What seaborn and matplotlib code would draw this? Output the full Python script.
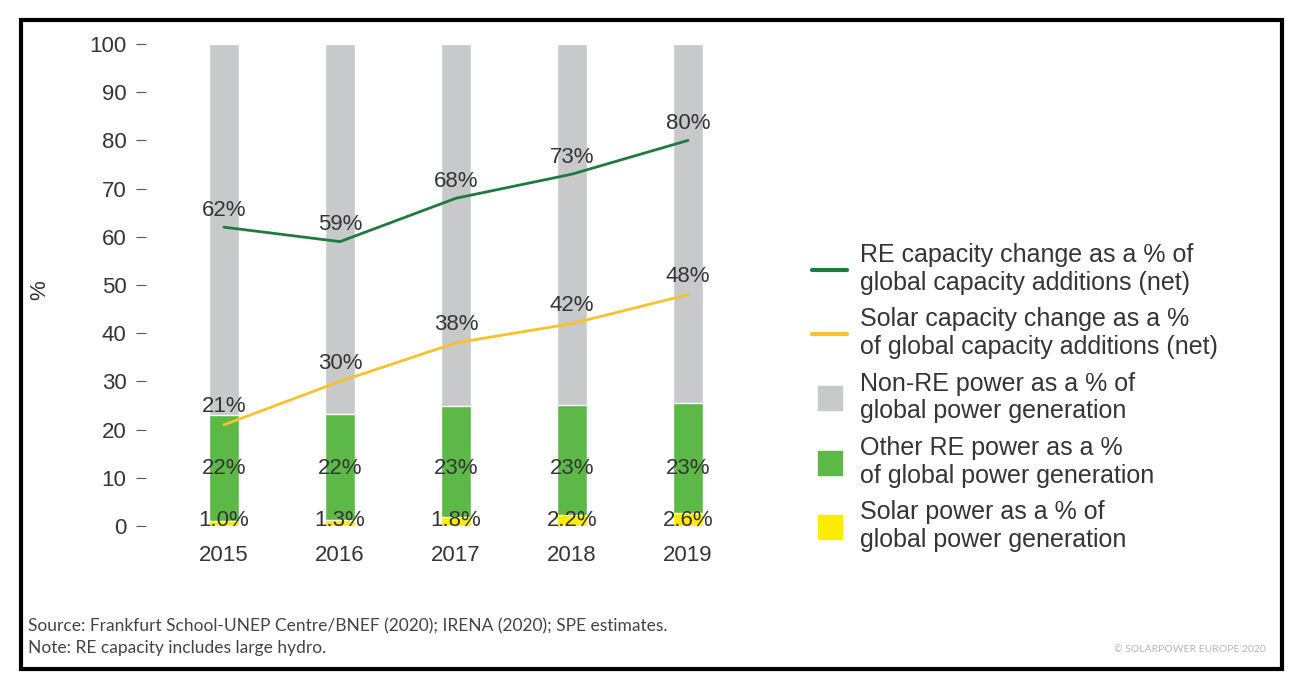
import numpy as np
import pandas as pd
import matplotlib
matplotlib.use('Agg')
import matplotlib.pyplot as plt
from matplotlib.lines import Line2D
from matplotlib.patches import Rectangle
import seaborn as sns

# Values
years = ['2015', '2016', '2017', '2018', '2019']
solar_power = [1.0, 1.3, 1.8, 2.2, 2.6]
other_re_power = [22, 22, 23, 23, 23]
non_re_power = [77.0, 76.7, 75.2, 74.8, 74.4]
re_capacity = [62, 59, 68, 73, 80]
solar_capacity = [21, 30, 38, 42, 48]

solar_lbl = ['1.0%', '1.3%', '1.8%', '2.2%', '2.6%']

legend_labels = [
    'RE capacity change as a % of\nglobal capacity additions (net)',
    'Solar capacity change as a %\nof global capacity additions (net)',
    'Non-RE power as a % of\nglobal power generation',
    'Other RE power as a %\nof global power generation',
    'Solar power as a % of\nglobal power generation',
]

c_grey = '#c8c9cb'
c_green = '#5db947'
c_yellow = '#ffec00'
c_line_green = '#1f7a3d'
c_line_yellow = '#f8c22d'
txt = '#353535'

sns.set_style('white')
plt.rcParams['font.family'] = ['Liberation Sans', 'DejaVu Sans']

df = pd.DataFrame({'year': years, 'solar': solar_power, 'other': other_re_power,
                   'nonre': non_re_power, 're_cap': re_capacity, 'sol_cap': solar_capacity})
df['top_green'] = df['solar'] + df['other']
df['top_grey'] = df['top_green'] + df['nonre']
df['idx'] = np.arange(len(df))

W, H = 1294, 692
fig = plt.figure(figsize=(W / 100, H / 100), dpi=100)
ax = fig.add_axes([146 / W, 1 - 526 / H, (746 - 146) / W, (526 - 44) / H])

# stacked bars drawn as overlays
sns.barplot(data=df, x='year', y='top_grey', color=c_grey, width=0.26, saturation=1, ax=ax)
sns.barplot(data=df, x='year', y='top_green', color=c_green, width=0.26, saturation=1, ax=ax)
sns.barplot(data=df, x='year', y='solar', color=c_yellow, width=0.26, saturation=1, ax=ax)

sns.lineplot(data=df, x='idx', y='re_cap', color=c_line_green, lw=2, ax=ax)
sns.lineplot(data=df, x='idx', y='sol_cap', color=c_line_yellow, lw=2, ax=ax)

fs = 16
for i, row in df.iterrows():
    ax.annotate(f"{row['re_cap']:.0f}%", (i, row['re_cap']), xytext=(0, 12),
                textcoords='offset points', ha='center', va='center', fontsize=fs, color=txt)
    ax.annotate(f"{row['sol_cap']:.0f}%", (i, row['sol_cap']), xytext=(0, 13),
                textcoords='offset points', ha='center', va='center', fontsize=fs, color=txt)
    ax.text(i, 12, f"{row['other']:.0f}%", ha='center', va='center', fontsize=fs, color=txt)
    ax.text(i, 1.2, solar_lbl[i], ha='center', va='center', fontsize=fs, color=txt)

ax.set_xlim(-0.672, 4.5)
ax.set_ylim(0, 100)
ax.set_yticks(range(0, 101, 10))
ax.set_xlabel('')
ax.set_ylabel('')
for s in ax.spines.values():
    s.set_visible(False)
ax.tick_params(axis='y', left=True, length=7, width=0.8, color='#555555', pad=7,
               labelsize=fs, labelcolor=txt, direction='out')
ax.tick_params(axis='x', bottom=False, labelsize=fs, labelcolor=txt, pad=10)
fig.text(40 / W, 1 - 290 / H, '%', rotation=90, ha='center', va='center', fontsize=fs, color=txt)

handles = [
    Line2D([], [], color=c_line_green, lw=3),
    Line2D([], [], color=c_line_yellow, lw=3),
    Line2D([], [], marker='s', ls='', color=c_grey, markersize=17),
    Line2D([], [], marker='s', ls='', color=c_green, markersize=17),
    Line2D([], [], marker='s', ls='', color=c_yellow, markersize=17),
]
leg = fig.legend(handles, legend_labels, loc='upper left', bbox_to_anchor=(812 / W, 1 - 243 / H),
                 frameon=False, fontsize=18, handlelength=1.4, handletextpad=0.5,
                 labelspacing=0.5, borderpad=0, borderaxespad=0)
for t in leg.get_texts():
    t.set_color(txt)
    t.set_linespacing(1.2)

note_font = ['Liberation Sans Narrow', 'Lato', 'DejaVu Sans']
fig.text(28 / W, 1 - 626 / H, 'Source: Frankfurt School-UNEP Centre/BNEF (2020); IRENA (2020); SPE estimates.',
         ha='left', va='center', fontsize=12.5, color='#444444', family=note_font)
fig.text(28 / W, 1 - 648 / H, 'Note: RE capacity includes large hydro.',
         ha='left', va='center', fontsize=12.5, color='#444444', family=note_font)
fig.text(1266 / W, 1 - 650 / H, '© SOLARPOWER EUROPE 2020', ha='right', va='center',
         fontsize=7.5, color='#b5b5b5', family=note_font)

fig.patches.append(Rectangle((21 / W, 1 - 669 / H), (1282 - 21) / W, (669 - 20) / H,
                             transform=fig.transFigure, fill=False, lw=3, ec='black'))

fig.savefig('out.png', dpi=100)
